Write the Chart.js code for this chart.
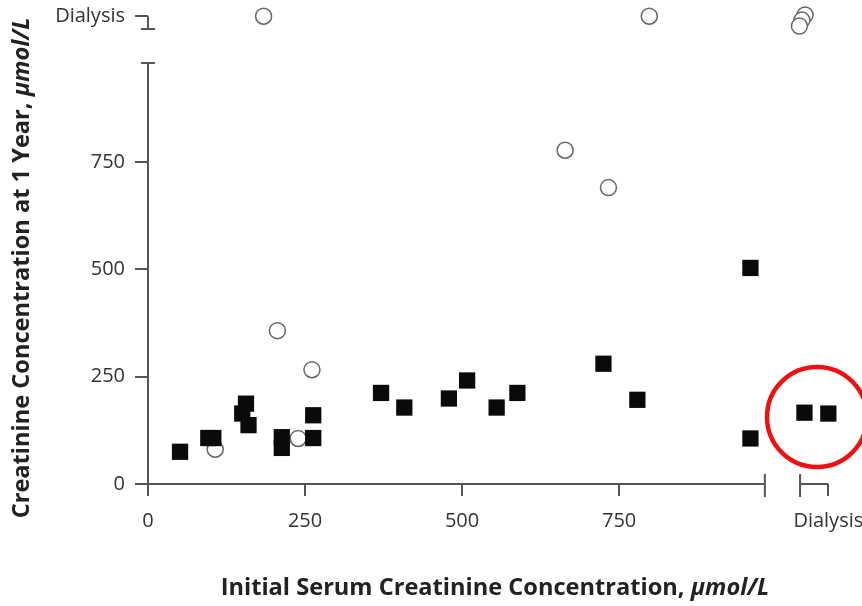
<!DOCTYPE html>
<html>
<head>
<meta charset="utf-8">
<script src="https://cdn.jsdelivr.net/npm/chart.js@4.4.1/dist/chart.umd.min.js"></script>
<style>
  html, body { margin: 0; padding: 0; background: #fff; }
  #wrap { width: 862px; height: 606px; }
</style>
</head>
<body>
<div id="wrap"><canvas id="myChart"></canvas></div>
<script>
// dialysis is placed past the axis breaks
var DIALYSIS_X = 1083
var DIALYSIS_Y = 1089

// patients still off dialysis (filled squares)
var squareX = [51, 96, 104, 150, 156, 160, 213, 213, 263, 263, 371, 408, 479, 508, 555, 588, 725, 779, 959, 959, 1045, 1083]
var squareY = [75, 107, 107, 164, 187, 137, 109, 84, 160, 107, 212, 178, 199, 241, 178, 212, 280, 196, 503, 106, 166, 164]

// open circles
var circleX = [107, 239, 206, 261, 664, 733, 184, 798, 1046, 1041, 1037]
var circleY = [81, 106, 357, 266, 777, 690, 1089, 1089, 1092, 1080, 1066]

var xTicks = [0, 250, 500, 750, DIALYSIS_X]
var yTicks = [0, 250, 500, 750, DIALYSIS_Y]

function toPoints(xs, ys) {
  return xs.map(function(x, i) { return { x: x, y: ys[i] } })
}

var font = "'Open Sans', 'DejaVu Sans', sans-serif"
var axisColor = '#555'

// broken axes, the red ring and the axis titles
var extras = {
  id: 'extras',
  afterDraw: function(chart) {
    var ctx = chart.ctx
    var xs = chart.scales.x
    var ys = chart.scales.y
    var x0 = xs.getPixelForValue(0)
    var y0 = ys.getPixelForValue(0)

    ctx.save()
    ctx.strokeStyle = axisColor
    ctx.lineWidth = 2
    ctx.beginPath()
    // y axis, main part
    var yTop = ys.getPixelForValue(980)
    ctx.moveTo(x0, y0)
    ctx.lineTo(x0, yTop)
    ctx.moveTo(x0 - 7, yTop)
    ctx.lineTo(x0 + 7, yTop)
    // y axis, dialysis part
    var yCap = ys.getPixelForValue(1059)
    ctx.moveTo(x0 - 7, yCap)
    ctx.lineTo(x0 + 7, yCap)
    ctx.moveTo(x0, yCap)
    ctx.lineTo(x0, ys.getPixelForValue(DIALYSIS_Y))
    // x axis, main part
    var xEnd = xs.getPixelForValue(982)
    ctx.moveTo(x0, y0)
    ctx.lineTo(xEnd, y0)
    ctx.moveTo(xEnd, y0 - 10)
    ctx.lineTo(xEnd, y0 + 13)
    // x axis, dialysis part
    var xCap = xs.getPixelForValue(1038)
    ctx.moveTo(xCap, y0 - 10)
    ctx.lineTo(xCap, y0 + 13)
    ctx.moveTo(xCap, y0)
    ctx.lineTo(xs.getPixelForValue(DIALYSIS_X), y0)
    ctx.stroke()

    // red ring round the two dialysis squares
    ctx.strokeStyle = '#ee1111'
    ctx.lineWidth = 4.5
    ctx.beginPath()
    ctx.arc(xs.getPixelForValue(1065), ys.getPixelForValue(156), 50, 0, Math.PI * 2)
    ctx.stroke()

    // axis titles, unit in italics
    ctx.fillStyle = '#222'
    ctx.textBaseline = 'middle'
    drawTitle(ctx, 'Initial Serum Creatinine Concentration, ', 'μmol/L', 495, 588, 0)
    drawTitle(ctx, 'Creatinine Concentration at 1 Year, ', 'μmol/L', 22, 268, -Math.PI / 2)
    ctx.restore()
  }
}

function drawTitle(ctx, main, unit, cx, cy, rot) {
  var fMain = 'bold 23.6px ' + font
  var fUnit = 'italic bold 23.6px ' + font
  ctx.font = fMain
  var w1 = ctx.measureText(main).width
  ctx.font = fUnit
  var w2 = ctx.measureText(unit).width
  ctx.save()
  ctx.translate(cx, cy)
  ctx.rotate(rot)
  ctx.textAlign = 'left'
  var start = -(w1 + w2) / 2
  ctx.font = fMain
  ctx.fillText(main, start, 0)
  ctx.font = fUnit
  ctx.fillText(unit, start + w1, 0)
  ctx.restore()
}

new Chart('myChart', {
  type: 'scatter',
  data: {
    datasets: [{
      label: 'Squares',
      data: toPoints(squareX, squareY),
      pointStyle: 'rect',
      pointRadius: 11.5,
      pointHoverRadius: 11.5,
      backgroundColor: '#0a0a0a',
      borderColor: '#0a0a0a',
      borderWidth: 0,
      clip: false
    }, {
      label: 'Circles',
      data: toPoints(circleX, circleY),
      pointStyle: 'circle',
      pointRadius: 8,
      pointHoverRadius: 8,
      backgroundColor: '#ffffff',
      borderColor: '#666',
      borderWidth: 1.5,
      clip: false
    }]
  },
  options: {
    responsive: true,
    maintainAspectRatio: false,
    animation: false,
    events: [],
    layout: { padding: { top: 10, right: 23, left: 0, bottom: 0 } },
    plugins: {
      legend: { display: false },
      tooltip: { enabled: false }
    },
    scales: {
      x: {
        type: 'linear',
        min: 0,
        max: 1100,
        afterBuildTicks: function(s) { s.ticks = xTicks.map(function(v) { return { value: v } }) },
        afterFit: function(s) { s.height = 122; s.paddingLeft = 0; s.paddingRight = 0 },
        border: { display: false },
        grid: { drawOnChartArea: false, drawTicks: true, tickLength: 12, color: axisColor, lineWidth: 2 },
        ticks: {
          padding: 13,
          maxRotation: 0,
          autoSkip: false,
          color: '#333',
          font: { family: font, size: 20 },
          callback: function(v) { return v === DIALYSIS_X ? 'Dialysis' : v }
        }
      },
      y: {
        type: 'linear',
        min: 0,
        max: 1100,
        afterBuildTicks: function(s) { s.ticks = yTicks.map(function(v) { return { value: v } }) },
        afterFit: function(s) { s.width = 148; s.paddingTop = 0; s.paddingBottom = 0 },
        border: { display: false },
        grid: { drawOnChartArea: false, drawTicks: true, tickLength: 13, color: axisColor, lineWidth: 2 },
        ticks: {
          padding: 10,
          autoSkip: false,
          color: '#333',
          font: { family: font, size: 20 },
          callback: function(v) { return v === DIALYSIS_Y ? 'Dialysis' : v }
        }
      }
    }
  },
  plugins: [extras]
})
</script>
</body>
</html>
